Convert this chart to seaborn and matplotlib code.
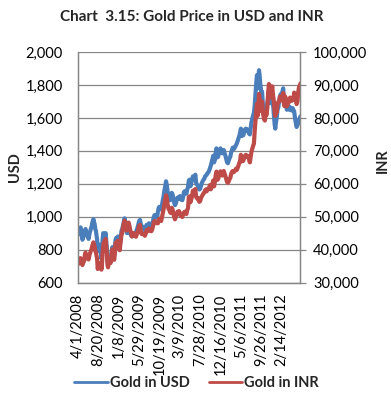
import matplotlib
matplotlib.use("Agg")
import matplotlib.pyplot as plt
import seaborn as sns
import pandas as pd

# ---- data (business-day index since 4/1/2008) ----
day_index = [
    0, 3, 6, 9, 12, 15, 18, 21, 24, 27, 30, 33, 36, 39, 42, 45, 48, 51, 54, 57,
    60, 63, 66, 69, 72, 75, 78, 81, 84, 87, 90, 93, 96, 99, 102, 105, 108, 111, 114, 117,
    120, 123, 126, 129, 132, 135, 138, 141, 144, 147, 150, 153, 156, 159, 162, 165, 168, 171, 174, 177,
    180, 183, 186, 189, 192, 195, 198, 201, 204, 207, 210, 213, 216, 219, 222, 225, 228, 231, 234, 237,
    240, 244, 248, 252, 256, 260, 264, 268, 272, 276, 280, 284, 288, 292, 296, 300, 304, 308, 312, 316,
    320, 324, 328, 332, 336, 340, 344, 348, 352, 356, 360, 364, 368, 372, 376, 380, 384, 388, 392, 396,
    400, 404, 408, 412, 416, 420, 424, 428, 432, 436, 440, 444, 448, 452, 456, 460, 464, 468, 472, 476,
    480, 484, 488, 492, 496, 500, 504, 508, 512, 516, 520, 524, 528, 532, 536, 540, 544, 548, 552, 556,
    560, 564, 568, 572, 576, 580, 584, 588, 592, 596, 600, 604, 608, 612, 616, 620, 624, 628, 632, 636,
    640, 644, 648, 652, 656, 660, 664, 668, 672, 676, 680, 684, 688, 692, 696, 700, 704, 708, 712, 716,
    720, 724, 728, 732, 736, 740, 744, 748, 752, 756, 760, 764, 768, 772, 776, 780, 784, 788, 792, 796,
    800, 804, 808, 812, 816, 820, 824, 828, 832, 836, 840, 844, 848, 852, 856, 860, 864, 868, 872, 876,
    879, 882, 885, 889, 892, 895, 898, 901, 904, 907, 910, 914, 918, 922, 926, 930, 934, 938, 942, 946,
    950, 954, 958, 962, 966, 969, 972, 976, 980, 984, 988, 992, 996, 1000, 1004, 1008, 1011, 1014, 1018, 1022,
    1026, 1030, 1034, 1038, 1042, 1046, 1050, 1054, 1058, 1062, 1066, 1070, 1074, 1078, 1082, 1086, 1090, 1093,
]

gold_usd = [
    890, 905, 930, 925, 935, 910, 890, 860, 875, 885, 895, 910, 925, 900, 885, 890, 880, 865, 885, 905,
    915, 930, 940, 960, 975, 985, 965, 955, 925, 915, 885, 860, 790, 810, 825, 830, 810, 790, 745, 780,
    860, 900, 880, 865, 890, 900, 850, 810, 735, 720, 745, 735, 750, 730, 750, 790, 815, 790, 770, 760,
    800, 855, 870, 855, 870, 880, 860, 845, 815, 850, 890, 915, 920, 940, 955, 975, 990, 975, 945, 930,
    900, 915, 945, 925, 900, 885, 880, 890, 900, 885, 890, 905, 920, 935, 955, 975, 980, 955, 935, 940,
    935, 930, 915, 930, 950, 945, 950, 960, 955, 945, 945, 955, 975, 1000, 1010, 1005, 1000, 995, 1030, 1055,
    1060, 1045, 1045, 1070, 1100, 1125, 1160, 1185, 1215, 1190, 1150, 1125, 1120, 1100, 1110, 1145, 1135, 1110, 1085, 1070,
    1080, 1100, 1115, 1110, 1120, 1125, 1105, 1110, 1100, 1120, 1150, 1155, 1145, 1140, 1165, 1180, 1220, 1225, 1185, 1205,
    1225, 1245, 1235, 1240, 1255, 1205, 1195, 1190, 1175, 1165, 1170, 1190, 1205, 1215, 1225, 1230, 1245, 1250, 1255, 1265,
    1270, 1280, 1295, 1310, 1330, 1350, 1370, 1330, 1345, 1390, 1415, 1360, 1365, 1385, 1395, 1415, 1390, 1385, 1395, 1405,
    1385, 1370, 1350, 1330, 1325, 1340, 1355, 1365, 1390, 1405, 1420, 1410, 1415, 1425, 1435, 1445, 1460, 1475, 1490, 1510,
    1535, 1490, 1505, 1495, 1515, 1530, 1535, 1525, 1530, 1520, 1505, 1500, 1540, 1575, 1595, 1615, 1630, 1680, 1750, 1820,
    1860, 1780, 1820, 1890, 1860, 1810, 1780, 1740, 1760, 1700, 1645, 1620, 1610, 1660, 1645, 1690, 1720, 1770, 1755, 1690,
    1720, 1740, 1690, 1620, 1560, 1535, 1570, 1600, 1650, 1665, 1700, 1730, 1745, 1735, 1760, 1780, 1720, 1700, 1710, 1680,
    1650, 1665, 1670, 1650, 1665, 1655, 1645, 1660, 1650, 1640, 1600, 1570, 1545, 1560, 1565, 1590, 1600, 1610,
]

gold_inr = [
    35600, 36200, 37200, 37000, 37400, 36400, 35600, 35300, 35900, 36300, 36700, 38500, 39100, 38100, 37400, 38100, 37700, 37000, 37900, 38700,
    39200, 39800, 40200, 41100, 41700, 42200, 41300, 40900, 39600, 39200, 38200, 37200, 34100, 35000, 35600, 35900, 35000, 35900, 33900, 35500,
    39100, 41000, 42200, 41500, 42700, 43200, 40800, 38900, 35300, 34600, 35800, 36200, 36900, 35900, 36900, 38900, 40100, 38900, 37900, 36900,
    38800, 41500, 42200, 41500, 42200, 42700, 42000, 41200, 39800, 41500, 43400, 44700, 44900, 46300, 47100, 48100, 48800, 48100, 46600, 45800,
    45900, 46700, 48200, 47200, 45900, 45100, 44000, 44500, 45000, 44300, 44500, 43900, 44600, 45300, 46300, 47300, 47500, 45600, 44700, 44900,
    44700, 44500, 44200, 44900, 45900, 45600, 45900, 46400, 46100, 45600, 45600, 46100, 47100, 48200, 48700, 48400, 48200, 48000, 48000, 49200,
    49400, 48700, 48700, 49900, 51200, 52300, 53900, 55100, 56500, 55500, 53600, 52400, 52200, 51300, 51100, 52700, 52200, 51100, 49900, 49200,
    49900, 50800, 51500, 51300, 51700, 51100, 50200, 50400, 49900, 50800, 51300, 51500, 51100, 50800, 52000, 52600, 56000, 56200, 54400, 55300,
    56200, 57900, 57400, 57700, 58400, 56000, 55600, 55700, 55000, 54500, 54800, 55700, 56200, 56600, 57100, 57300, 58000, 58300, 57700, 58200,
    58400, 58900, 59600, 58300, 59200, 60100, 61000, 59200, 60500, 62600, 63700, 61200, 61400, 62300, 62900, 63800, 62700, 62500, 62900, 63900,
    63000, 62300, 61400, 60500, 60300, 60700, 61400, 61800, 63000, 63600, 63900, 63500, 63700, 64100, 64600, 64200, 64800, 65500, 66200, 67000,
    68800, 66800, 67400, 67000, 67900, 68500, 68800, 68300, 68500, 68100, 67400, 66500, 68200, 69800, 70700, 71500, 72200, 76100, 79300, 82400,
    84300, 80600, 82400, 87300, 85900, 83600, 82200, 84000, 85000, 82100, 80900, 79700, 79200, 81700, 80900, 83100, 87700, 90300, 89500, 86200,
    87700, 89600, 87000, 85100, 81900, 80600, 82400, 81600, 84200, 84900, 85000, 86500, 85900, 85400, 86600, 87600, 84600, 83600, 86500, 85000,
    83500, 84200, 84500, 85500, 86200, 85700, 85200, 86000, 85500, 87700, 85600, 85600, 84200, 85000, 88000, 89400, 89900, 90500,
]

tick_positions = [0, 100, 200, 300, 400, 500, 600, 700, 800, 900, 1000]
tick_labels = ["4/1/2008", "8/20/2008", "1/8/2009", "5/29/2009", "10/19/2009", "3/9/2010",
               "7/28/2010", "12/16/2010", "5/6/2011", "9/26/2011", "2/14/2012"]
usd_ticks = [600, 800, 1000, 1200, 1400, 1600, 1800, 2000]
inr_ticks = [30000, 40000, 50000, 60000, 70000, 80000, 90000, 100000]

df = pd.DataFrame({"idx": day_index, "usd": gold_usd, "inr": gold_inr})

sns.set_style("white")
plt.rcParams["font.family"] = ["Lato", "DejaVu Sans"]

BLUE = "#4A7EBB"
RED = "#BE4B48"
GRID = "#868686"

fig = plt.figure(figsize=(3.91, 4.01), dpi=100)
ax = fig.add_axes([0.2, 0.2955, 0.5685, 0.5745])
ax2 = ax.twinx()

sns.lineplot(data=df, x="idx", y="usd", ax=ax, color=BLUE, lw=3.0, label="Gold in USD", legend=False)
sns.lineplot(data=df, x="idx", y="inr", ax=ax2, color=RED, lw=3.0, label="Gold in INR", legend=False)

ax.set_xlim(0, 1093)
ax.set_ylim(600, 2000)
ax2.set_ylim(30000, 100000)

ax.set_yticks(usd_ticks)
ax.set_yticklabels([f"{v:,}" for v in usd_ticks])
ax2.set_yticks(inr_ticks)
ax2.set_yticklabels([f"{v:,}" for v in inr_ticks])
ax.set_xticks(tick_positions)
ax.set_xticklabels(tick_labels, rotation=90)

ax.grid(axis="y", color=GRID, lw=0.9)
ax.grid(axis="x", visible=False)
ax.set_axisbelow(True)

for a in (ax, ax2):
    a.spines["top"].set_visible(False)
    for s in ("left", "right", "bottom"):
        a.spines[s].set_color(GRID)
        a.spines[s].set_linewidth(0.9)

ax.tick_params(axis="y", length=0, pad=11, labelsize=10.5, labelcolor="#000000")
ax.tick_params(axis="x", length=0, pad=8, labelsize=10.5, labelcolor="#000000")
ax2.tick_params(axis="y", length=4, width=0.9, color=GRID, pad=5, labelsize=10.5, labelcolor="#000000")

ax.set_xlabel("")
ax.set_ylabel("")
ax2.set_ylabel("")
fig.text(0.038, 0.582, "USD", rotation=90, ha="center", va="center", fontsize=10.5, fontweight="bold")
fig.text(0.979, 0.60, "INR", rotation=90, ha="center", va="center", fontsize=10.5, fontweight="bold")

fig.text(0.49, 0.958, "Chart  3.15: Gold Price in USD and INR", ha="center", va="center",
         fontsize=11, fontweight="bold")

h1, l1 = ax.get_legend_handles_labels()
h2, l2 = ax2.get_legend_handles_labels()
leg = fig.legend(h1 + h2, l1 + l2, loc="center", bbox_to_anchor=(0.503, 0.045), ncol=2,
                 frameon=False, handlelength=2.3, handletextpad=0.15, columnspacing=1.3,
                 prop={"size": 10.5, "weight": "bold"})
for line in leg.get_lines():
    line.set_linewidth(2.0)

fig.savefig("out.png", dpi=100)
